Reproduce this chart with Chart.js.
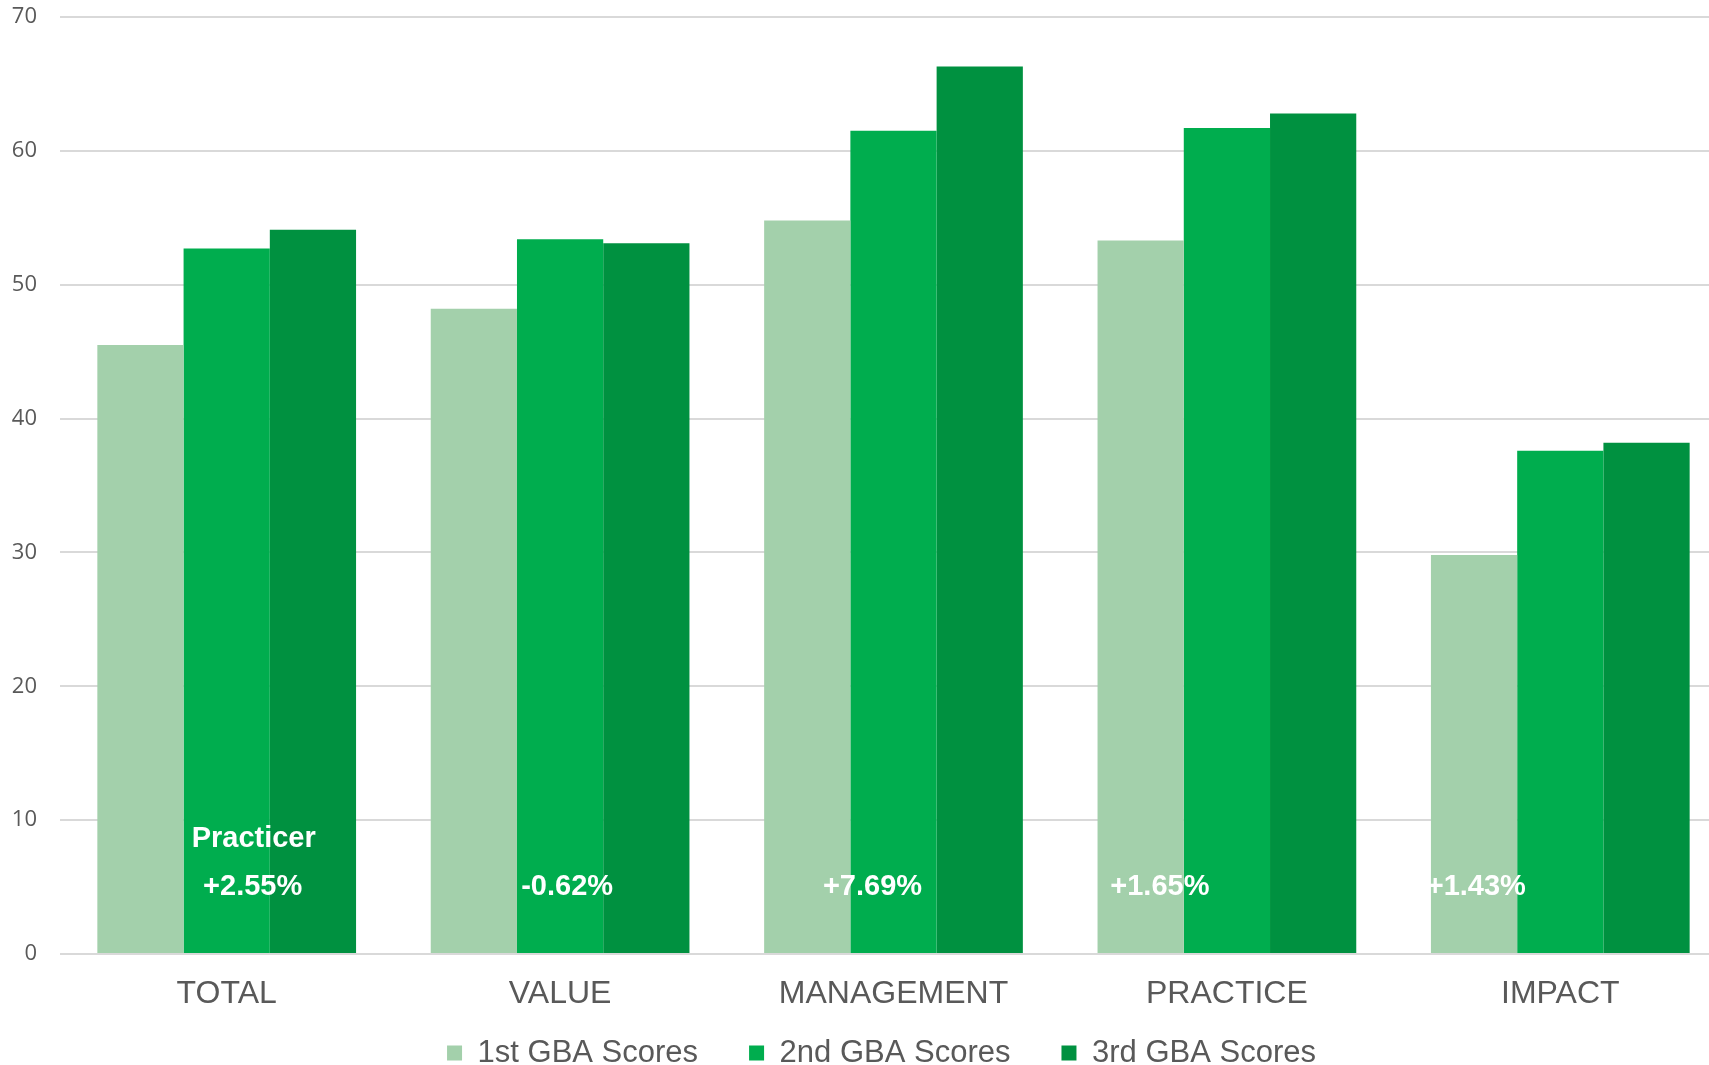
<!DOCTYPE html>
<html>
<head>
<meta charset="utf-8">
<script src="https://cdn.jsdelivr.net/npm/chart.js@4/dist/chart.umd.min.js"></script>
<style>
  html, body { margin: 0; padding: 0; background: #fff; overflow: hidden; }
  #wrap { width: 1709px; height: 1065px; overflow: hidden; }
</style>
</head>
<body>
<div id="wrap"><canvas id="gbaChart" width="1727" height="1103"></canvas></div>
<script>
const categories = ['TOTAL', 'VALUE', 'MANAGEMENT', 'PRACTICE', 'IMPACT'];
const seriesNames = ['1st GBA Scores', '2nd GBA Scores', '3rd GBA Scores'];
const firstScores = [45.5, 48.2, 54.8, 53.3, 29.8];
const secondScores = [52.7, 53.4, 61.5, 61.7, 37.6];
const thirdScores = [54.1, 53.1, 66.3, 62.8, 38.2];
const changeLabels = ['+2.55%', '-0.62%', '+7.69%', '+1.65%', '+1.43%'];
const groupTitle = 'Practicer';

// where the white notes sit: category offset (fraction of a category) and y value
const notePlace = [
    { idx: 0, dx: 0.081, y: 8.58, text: groupTitle },
    { idx: 0, dx: 0.078, y: 4.99, text: changeLabels[0] },
    { idx: 1, dx: 0.021, y: 4.99, text: changeLabels[1] },
    { idx: 2, dx: -0.063, y: 4.99, text: changeLabels[2] },
    { idx: 3, dx: -0.201, y: 4.99, text: changeLabels[3] },
    { idx: 4, dx: -0.252, y: 4.99, text: changeLabels[4] }
];

const notesPlugin = {
    id: 'notes',
    afterLayout(chart) {
        // legend sits a bit right of canvas centre and tucks under the axis labels
        const lg = chart.legend;
        lg.left += 18; lg.right += 18;
        lg.top -= 24.5; lg.bottom -= 24.5;
    },
    afterDatasetsDraw(chart) {
        const { ctx, scales: { x, y } } = chart;
        const catW = x.getPixelForValue(1) - x.getPixelForValue(0);
        ctx.save();
        ctx.fillStyle = '#ffffff';
        ctx.font = 'bold 29px "Liberation Sans", Arial, sans-serif';
        ctx.textAlign = 'center';
        ctx.textBaseline = 'middle';
        notePlace.forEach(n => {
            ctx.fillText(n.text, x.getPixelForValue(n.idx) + n.dx * catW, y.getPixelForValue(n.y));
        });
        ctx.restore();
    }
};

new Chart(document.getElementById('gbaChart'), {
    type: 'bar',
    data: {
        labels: categories,
        datasets: [
            { label: seriesNames[0], data: firstScores, backgroundColor: '#a3d0ab' },
            { label: seriesNames[1], data: secondScores, backgroundColor: '#00ad4e' },
            { label: seriesNames[2], data: thirdScores, backgroundColor: '#009140' }
        ]
    },
    options: {
        responsive: false,
        animation: false,
        layout: { padding: { left: 0, top: 17, right: 0, bottom: 0 } },
        datasets: { bar: { categoryPercentage: 0.776, barPercentage: 1.0, borderWidth: 0 } },
        scales: {
            x: {
                grid: { display: false },
                border: { display: false },
                ticks: { color: '#595959', padding: 13, font: { family: '"Liberation Sans", Arial, sans-serif', size: 32 } },
                afterFit(scale) { scale.height = 57; }
            },
            y: {
                min: 0,
                max: 70,
                grid: { color: '#d9d9d9', lineWidth: 2, drawTicks: true, tickLength: 23, tickColor: 'rgba(0,0,0,0)' },
                border: { display: false },
                ticks: { stepSize: 10, color: '#595959', padding: 0, font: { family: '"Open Sans", sans-serif', size: 22 } },
                afterFit(scale) { scale.width = 60; }
            }
        },
        plugins: {
            tooltip: { enabled: false },
            legend: {
                position: 'bottom',
                labels: {
                    color: '#595959',
                    boxWidth: 15,
                    boxHeight: 15,
                    padding: 51,
                    font: { family: '"Liberation Sans", Arial, sans-serif', size: 31 }
                }
            }
        }
    },
    plugins: [notesPlugin]
});
</script>
</body>
</html>
